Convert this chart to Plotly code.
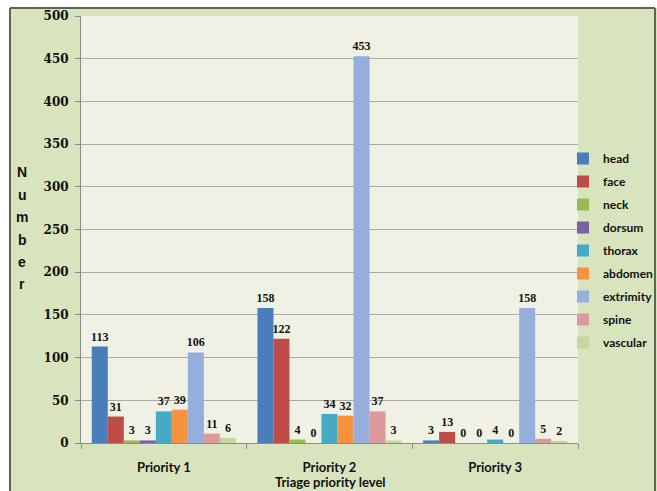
import plotly.graph_objects as go

categories = ["Priority 1", "Priority 2", "Priority 3"]
series_names = ["head", "face", "neck", "dorsum", "thorax", "abdomen", "extrimity", "spine", "vascular"]
head = [113, 158, 3]
face = [31, 122, 13]
neck = [3, 4, 0]
dorsum = [3, 0, 0]
thorax = [37, 34, 4]
abdomen = [39, 32, 0]
extrimity = [106, 453, 158]
spine = [11, 37, 5]
vascular = [6, 3, 2]
series_values = [head, face, neck, dorsum, thorax, abdomen, extrimity, spine, vascular]
y_ticks = [0, 50, 100, 150, 200, 250, 300, 350, 400, 450, 500]

colors = ["#4A7EBB", "#BE4B48", "#98B954", "#7D60A0", "#46AAC5", "#F69240", "#95AEDC", "#DC9A9C", "#C4D79E"]

W, H = 657, 491
ML, MR, MT, MB = 81, 79, 16, 48
PW, PH = W - ML - MR, H - MT - MB


def px_x(px):
    return (px - ML) / PW


def px_y(py):
    return (H - MB - py) / PH


fig = go.Figure()
for name, vals, col in zip(series_names, series_values, colors):
    fig.add_trace(go.Bar(
        name=name, x=categories, y=vals, marker=dict(color=col, line=dict(width=0)),
        text=[str(v) for v in vals], textposition="outside", cliponaxis=False, constraintext="none",
        textfont=dict(family="Liberation Serif", size=12, color="#111111", weight="bold"),
        legendgroup=name,
    ))

shapes = [
    dict(type="rect", xref="paper", yref="paper", x0=px_x(0), x1=px_x(10), y0=px_y(H), y1=px_y(0),
         fillcolor="white", line=dict(width=0), layer="above"),
    dict(type="rect", xref="paper", yref="paper", x0=px_x(0), x1=px_x(W), y0=px_y(8), y1=px_y(0),
         fillcolor="white", line=dict(width=0), layer="above"),
    dict(type="line", xref="paper", yref="paper", x0=px_x(10), x1=px_x(10), y0=px_y(H), y1=px_y(8),
         line=dict(color="#5E6352", width=2), layer="above"),
    dict(type="line", xref="paper", yref="paper", x0=px_x(10), x1=px_x(655), y0=px_y(8), y1=px_y(8),
         line=dict(color="#5E6352", width=2), layer="above"),
    dict(type="line", xref="paper", yref="paper", x0=px_x(655), x1=px_x(655), y0=px_y(H), y1=px_y(8),
         line=dict(color="#5E6352", width=2), layer="above"),
]

annotations = []
for i, ch in enumerate("Number"):
    annotations.append(dict(text=ch, xref="paper", yref="paper", x=px_x(22), y=px_y(172 + i * 22.5),
                            showarrow=False, xanchor="center", yanchor="middle",
                            font=dict(family="Liberation Sans", size=14, color="#111111", weight="bold")))
annotations.append(dict(text="Triage priority level", xref="paper", yref="paper", x=px_x(330), y=px_y(482),
                        showarrow=False, xanchor="center", yanchor="middle",
                        font=dict(family="Lato", size=13, color="#111111", weight="bold")))

fig.update_layout(
    width=W, height=H, margin=dict(l=ML, r=MR, t=MT, b=MB, autoexpand=False),
    paper_bgcolor="#D8E4BE", plot_bgcolor="#EEF1E4",
    barmode="group", bargap=0.13, bargroupgap=0,
    shapes=shapes, annotations=annotations,
    legend=dict(xref="container", yref="container", x=563 / W, y=1 - 144 / H,
                xanchor="left", yanchor="top", bgcolor="rgba(0,0,0,0)",
                font=dict(family="Lato", size=12, color="#111111", weight="bold"),
                tracegroupgap=4, itemwidth=30),
    xaxis=dict(showgrid=False, showline=True, linecolor="#8C8C8C", linewidth=1,
               ticks="outside", tickson="boundaries", ticklen=5, tickcolor="#8C8C8C",
               tickfont=dict(family="Lato", size=13, color="#111111", weight="bold"),
               ticklabelstandoff=12),
    yaxis=dict(range=[0, 500], tickvals=y_ticks, showgrid=True, gridcolor="#A9AAA2", gridwidth=1,
               showline=True, linecolor="#8C8C8C", linewidth=1, ticks="outside", ticklen=5,
               tickcolor="#8C8C8C", zeroline=False,
               tickfont=dict(family="DejaVu Serif", size=12, color="#111111", weight="bold"),
               ticklabelstandoff=4),
    showlegend=True,
)

fig.write_html("out.html")
